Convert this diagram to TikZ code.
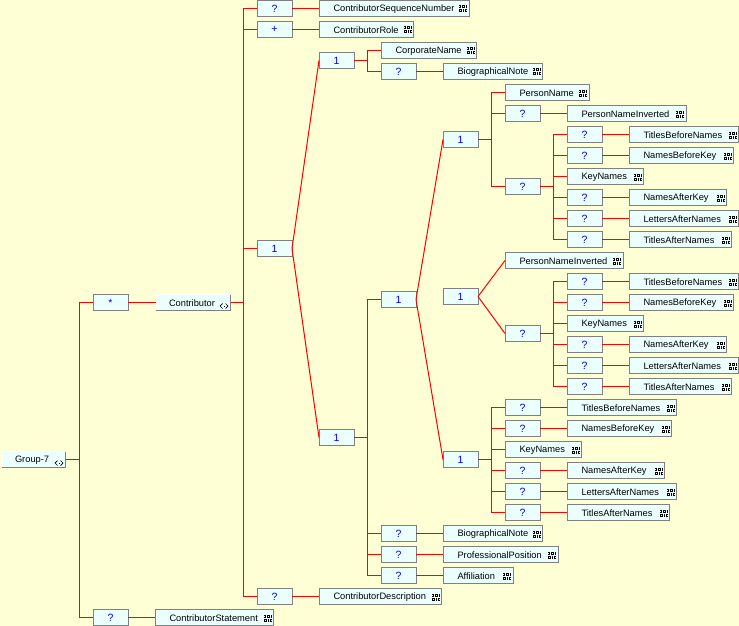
\documentclass[tikz,border=0pt]{standalone}
\usepackage{fontspec}
\setmainfont{Liberation Sans}
\definecolor{pagebg}{HTML}{FFFFD6}
\definecolor{boxfill}{HTML}{ECFFFF}
\definecolor{boxline}{HTML}{808080}
\definecolor{linkred}{HTML}{FF0000}
\tikzset{
  boxbase/.style={inner sep=0pt,outer sep=0pt,minimum height=16pt,fill=boxfill},
  framed/.style={boxbase,draw=boxline,line width=1pt},
  qbox/.style={framed,minimum width=35pt,text=blue,font=\fontsize{10.5}{12}\selectfont},
  ebox/.style={framed,font=\fontsize{9.3}{11}\selectfont},
  gbox/.style={boxbase,font=\fontsize{9.3}{11}\selectfont},
  link/.style={draw=linkred,line width=1pt,line join=miter},
  bevellight/.style={draw=white,line width=1pt},
  bevelshade/.style={draw=boxline,line width=1pt},
  glyphink/.style={fill=black},
  glyphline/.style={draw=black,line width=0.7pt},
  qrglyph/.pic={
    \foreach \a/\b/\c in {0/0/2,3/0/3,7/0/1,1/1/1,3/1/1,5/1/1,7/1/1,0/2/2,3/2/3,7/2/1,
                          0/4/3,4/4/1,6/4/2,0/5/1,2/5/1,4/5/1,6/5/1,0/6/3,4/6/1,6/6/2}
      \fill[glyphink] (\a,\b) rectangle ++(\c,1);
  },
  chevglyph/.pic={
    \draw[glyphline] (2.5,-2.5) -- (0,0) -- (2.5,2.5);
    \draw[glyphline] (5.5,-2.5) -- (8,0) -- (5.5,2.5);
    \fill[glyphink] (3.5,-0.5) rectangle ++(1,1);
  }
}
\newcommand{\qb}[4]{\node[qbox] (#1) at ({#2+17.5},#3) {#4};}
\newcommand{\el}[5]{%
  \pgfmathsetmacro{\boxw}{#3-#2}%
  \node[ebox] (#1) at ({(#2+#3)/2},#4) {\makebox[\boxw pt][l]{\hspace*{14.5pt}\rule{0pt}{7pt}\raisebox{-0.6pt}{#5}}};%
  \pic at ([xshift=-10pt,yshift=3pt]#1.east) {qrglyph};}
\newcommand{\gb}[5]{%
  \pgfmathsetmacro{\boxw}{#3-#2}%
  \node[gbox] (#1) at ({(#2+#3)/2},#4) {\makebox[\boxw pt][l]{\hspace*{13pt}\rule{0pt}{7pt}\raisebox{-0.2pt}{#5}}};%
  \draw[bevellight] (#1.south west) -- (#1.north west) -- (#1.north east);
  \draw[bevelshade] (#1.north east) -- (#1.south east) -- (#1.south west);
  \pic at ([xshift=-10.5pt,yshift=-3.5pt]#1.east) {chevglyph};}
% branch: horizontal stub, then vertical bus, into the child
\newcommand{\br}[2]{\draw[link] (#1.east) -- ([xshift=13.5pt]#1.east) |- (#2.west);}
\newcommand{\st}[2]{\draw[link] (#1.east) -- (#2.west);}
\begin{document}
\begin{tikzpicture}[x=1pt,y=-1pt]
\fill[pagebg] (0,0) rectangle (739,626);
\useasboundingbox (0,0) rectangle (739,626);

\gb{g}{2}{65.5}{459.5}{Group-7}
\qb{star}{93}{302.5}{*}
\gb{contrib}{156}{230.5}{302.5}{Contributor}
\qb{qstmt}{93}{617.5}{?}
\el{stmt}{155}{273.5}{617.5}{ContributorStatement}

\qb{qseq}{257}{8.5}{?}
\el{seq}{319}{469}{8.5}{ContributorSequenceNumber}
\qb{plus}{257}{29.5}{+}
\el{role}{319}{413.5}{29.5}{ContributorRole}
\qb{ch}{257}{248.5}{1}
\qb{qdesc}{257}{596.5}{?}
\el{desc}{319}{441.5}{596.5}{ContributorDescription}

\qb{up}{319}{60.5}{1}
\el{corp}{381}{476.5}{50.5}{CorporateName}
\qb{qbio}{381}{71.5}{?}
\el{bio}{443}{542.5}{71.5}{BiographicalNote}

\qb{low}{319}{437.5}{1}
\qb{mid}{381}{299.5}{1}
\qb{qb2}{381}{533.5}{?}
\el{bio2}{443}{542.5}{533.5}{BiographicalNote}
\qb{qpp}{381}{554.5}{?}
\el{pp}{443}{558}{554.5}{ProfessionalPosition}
\qb{qaf}{381}{575.5}{?}
\el{af}{443}{513}{575.5}{Affiliation}

% first person block
\qb{a}{443}{139.5}{1}
\el{apn}{505}{589}{92.5}{PersonName}
\qb{aq1}{505}{113.5}{?}
\el{apni}{567}{686}{113.5}{PersonNameInverted}
\qb{aq2}{505}{186.5}{?}
\qb{a1}{567}{134.5}{?}
\el{a1e}{629}{738.5}{134.5}{TitlesBeforeNames}
\qb{a2}{567}{155.5}{?}
\el{a2e}{629}{733.5}{155.5}{NamesBeforeKey}
\el{a3}{567}{643.5}{176.5}{KeyNames}
\qb{a4}{567}{197.5}{?}
\el{a4e}{629}{726.5}{197.5}{NamesAfterKey}
\qb{a5}{567}{218.5}{?}
\el{a5e}{629}{738.5}{218.5}{LettersAfterNames}
\qb{a6}{567}{239.5}{?}
\el{a6e}{629}{731.5}{239.5}{TitlesAfterNames}

% second person block
\qb{b}{443}{296.5}{1}
\el{bpni}{505}{623}{260.5}{PersonNameInverted}
\qb{bq}{505}{333.5}{?}
\qb{b1}{567}{281.5}{?}
\el{b1e}{629}{738.5}{281.5}{TitlesBeforeNames}
\qb{b2}{567}{302.5}{?}
\el{b2e}{629}{733.5}{302.5}{NamesBeforeKey}
\el{b3}{567}{643.5}{323.5}{KeyNames}
\qb{b4}{567}{344.5}{?}
\el{b4e}{629}{726.5}{344.5}{NamesAfterKey}
\qb{b5}{567}{365.5}{?}
\el{b5e}{629}{738.5}{365.5}{LettersAfterNames}
\qb{b6}{567}{386.5}{?}
\el{b6e}{629}{731.5}{386.5}{TitlesAfterNames}

% third block
\qb{c}{443}{459.5}{1}
\qb{c1}{505}{407.5}{?}
\el{c1e}{567}{676.5}{407.5}{TitlesBeforeNames}
\qb{c2}{505}{428.5}{?}
\el{c2e}{567}{671.5}{428.5}{NamesBeforeKey}
\el{c3}{505}{581.5}{449.5}{KeyNames}
\qb{c4}{505}{470.5}{?}
\el{c4e}{567}{664.5}{470.5}{NamesAfterKey}
\qb{c5}{505}{491.5}{?}
\el{c5e}{567}{676.5}{491.5}{LettersAfterNames}
\qb{c6}{505}{512.5}{?}
\el{c6e}{567}{669.5}{512.5}{TitlesAfterNames}

% connectors
\br{g}{star} \br{g}{qstmt}
\st{star}{contrib} \st{qstmt}{stmt}
\draw[link] (contrib.east) -- ([xshift=12.5pt]contrib.east) |- (qseq.west);
\draw[link] (contrib.east) -- ([xshift=12.5pt]contrib.east) |- (plus.west);
\draw[link] (contrib.east) -- ([xshift=12.5pt]contrib.east) |- (ch.west);
\draw[link] (contrib.east) -- ([xshift=12.5pt]contrib.east) |- (qdesc.west);
\st{qseq}{seq} \st{plus}{role} \st{qdesc}{desc}
\st{ch}{up} \st{ch}{low}
\br{up}{corp} \br{up}{qbio} \st{qbio}{bio}
\br{low}{mid} \br{low}{qb2} \br{low}{qpp} \br{low}{qaf}
\st{qb2}{bio2} \st{qpp}{pp} \st{qaf}{af}
\st{mid}{a} \st{mid}{c}
\br{a}{apn} \br{a}{aq1} \br{a}{aq2} \st{aq1}{apni}
\br{aq2}{a1} \br{aq2}{a2} \br{aq2}{a3} \br{aq2}{a4} \br{aq2}{a5} \br{aq2}{a6}
\st{a1}{a1e} \st{a2}{a2e} \st{a4}{a4e} \st{a5}{a5e} \st{a6}{a6e}
\st{b}{bpni} \st{b}{bq}
\br{bq}{b1} \br{bq}{b2} \br{bq}{b3} \br{bq}{b4} \br{bq}{b5} \br{bq}{b6}
\st{b1}{b1e} \st{b2}{b2e} \st{b4}{b4e} \st{b5}{b5e} \st{b6}{b6e}
\br{c}{c1} \br{c}{c2} \br{c}{c3} \br{c}{c4} \br{c}{c5} \br{c}{c6}
\st{c1}{c1e} \st{c2}{c2e} \st{c4}{c4e} \st{c5}{c5e} \st{c6}{c6e}
\end{tikzpicture}
\end{document}
